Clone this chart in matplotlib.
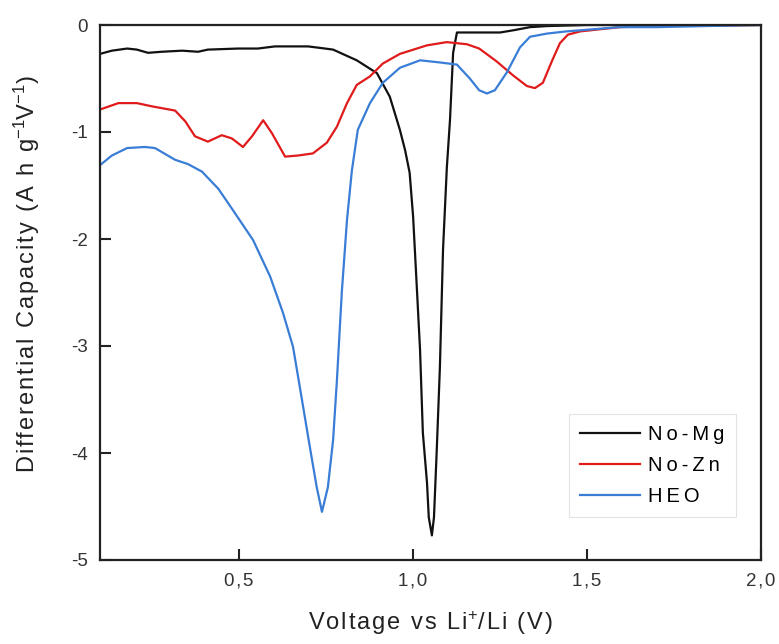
import matplotlib
matplotlib.use("Agg")
import matplotlib.pyplot as plt
from matplotlib.ticker import FuncFormatter

plt.rcParams['font.family'] = ['Liberation Sans', 'DejaVu Sans']
plt.rcParams['mathtext.fontset'] = 'custom'
plt.rcParams['mathtext.rm'] = 'Liberation Sans'
plt.rcParams['mathtext.it'] = 'Liberation Sans'
plt.rcParams['mathtext.default'] = 'regular'

# No-Mg (black)
nomg_x = [0.10, 0.134, 0.178, 0.206, 0.238, 0.278, 0.336, 0.382, 0.41, 0.497, 0.554, 0.603, 0.698,
          0.747, 0.77, 0.838, 0.896, 0.933, 0.962, 0.977, 0.99, 1.0, 1.01, 1.02, 1.028, 1.04, 1.045,
          1.054, 1.06, 1.068, 1.077, 1.086, 1.097, 1.106, 1.115, 1.126, 1.20, 1.25, 1.287, 1.336,
          1.385, 1.5, 1.7, 2.0]
nomg_y = [-0.27, -0.24, -0.22, -0.23, -0.26, -0.25, -0.24, -0.25, -0.23, -0.22, -0.22, -0.20, -0.20,
          -0.22, -0.23, -0.33, -0.45, -0.67, -0.98, -1.17, -1.38, -1.79, -2.41, -3.04, -3.81, -4.28, -4.60,
          -4.77, -4.60, -3.97, -3.20, -2.10, -1.33, -0.89, -0.26, -0.07, -0.07, -0.07, -0.05, -0.02,
          -0.01, 0.0, 0.0, 0.0]

# No-Zn (red)
nozn_x = [0.10, 0.153, 0.206, 0.249, 0.316, 0.345, 0.373, 0.41, 0.45, 0.479, 0.511, 0.537, 0.569,
          0.594, 0.632, 0.669, 0.712, 0.752, 0.781, 0.81, 0.838, 0.876, 0.913, 0.962, 1.04, 1.097,
          1.155, 1.19, 1.24, 1.287, 1.327, 1.35, 1.373, 1.40, 1.422, 1.445, 1.48, 1.537, 1.594, 1.7, 2.0]
nozn_y = [-0.79, -0.73, -0.73, -0.76, -0.80, -0.90, -1.04, -1.09, -1.03, -1.06, -1.14, -1.04, -0.89,
          -1.01, -1.23, -1.22, -1.20, -1.10, -0.95, -0.73, -0.56, -0.48, -0.36, -0.27, -0.19, -0.16,
          -0.18, -0.22, -0.34, -0.47, -0.57, -0.59, -0.54, -0.33, -0.17, -0.09, -0.06, -0.04, -0.02, -0.01, 0.0]

# HEO (blue)
heo_x = [0.10, 0.134, 0.178, 0.229, 0.258, 0.316, 0.353, 0.393, 0.44, 0.482, 0.54, 0.589, 0.626,
         0.655, 0.684, 0.703, 0.723, 0.738, 0.755, 0.77, 0.781, 0.795, 0.81, 0.824, 0.841, 0.876,
         0.913, 0.962, 1.02, 1.077, 1.126, 1.163, 1.19, 1.212, 1.235, 1.27, 1.307, 1.336, 1.385,
         1.44, 1.517, 1.594, 1.7, 1.84, 2.0]
heo_y = [-1.31, -1.22, -1.15, -1.14, -1.15, -1.26, -1.30, -1.37, -1.53, -1.73, -2.01, -2.35, -2.69,
         -3.01, -3.57, -3.94, -4.32, -4.55, -4.32, -3.88, -3.32, -2.50, -1.82, -1.36, -0.98, -0.73,
         -0.54, -0.40, -0.33, -0.35, -0.37, -0.50, -0.61, -0.64, -0.61, -0.44, -0.21, -0.11, -0.08,
         -0.06, -0.04, -0.02, -0.02, -0.01, 0.0]

labels = ["No-Mg", "No-Zn", "HEO"]
colors = ["#111111", "#e01b1b", "#3a7dd6"]
series = list(zip(labels, [nomg_x, nozn_x, heo_x], [nomg_y, nozn_y, heo_y], colors))

x_ticks = [0.5, 1.0, 1.5, 2.0]
y_ticks = [0, -1, -2, -3, -4, -5]

TS = "\u2009"  # thin space, mimics the letter spacing of the original
HS = "\u200a"  # hair space


def spaced(s, sep):
    return sep.join(s)


fig = plt.figure(figsize=(7.79, 6.44), dpi=100)
ax = fig.add_axes([100/779, 1-560/644, 661/779, 535/644])

for name, xs, ys, c in series:
    ax.plot(xs, ys, color=c, lw=1.6, label=spaced(name, TS))

ax.set_xlim(0.1, 2.0)
ax.set_ylim(-5, 0)
ax.set_xticks(x_ticks)
ax.set_yticks(y_ticks)
ax.xaxis.set_major_formatter(FuncFormatter(lambda v, p: f"{v:.1f}".replace('.', HS + ',' + HS)))
ax.yaxis.set_major_formatter(FuncFormatter(lambda v, p: f"{int(round(v))}"))
ax.tick_params(axis='both', direction='in', length=8, width=1.5, colors='#222222',
               labelsize=13.5, labelcolor='#333333')
ax.tick_params(axis='x', pad=9)
ax.tick_params(axis='y', pad=9)
for s in ax.spines.values():
    s.set_linewidth(1.6)
    s.set_color('#222222')

xlab = spaced("Voltage vs Li", HS) + "$^{+}$" + spaced("/Li (V)", HS)
ylab = spaced("Differential Capacity (A h g", HS) + "$^{-1}$" + "V" + "$^{-1}$" + ")"
ax.set_xlabel(xlab, fontsize=17, color='#222222', labelpad=14)
ax.set_ylabel(ylab, fontsize=17, color='#222222')
ax.yaxis.set_label_coords(-0.088, 0.535)

leg = ax.legend(loc='lower right', bbox_to_anchor=(0.962, 0.080), fontsize=14.5,
                frameon=True, fancybox=False, edgecolor='#dddddd', handlelength=3.0,
                handletextpad=0.4, labelspacing=0.6, borderpad=0.55, borderaxespad=0)
leg.get_frame().set_linewidth(0.8)

fig.savefig("out.png", dpi=100)
